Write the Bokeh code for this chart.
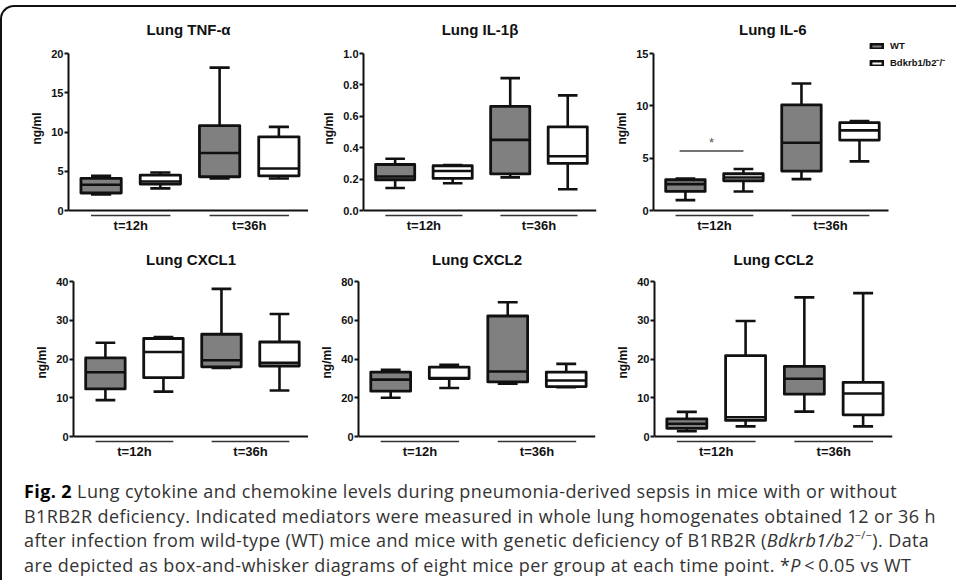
from bokeh.plotting import figure
from bokeh.layouts import column, row
from bokeh.models import (FixedTicker, Legend, LegendItem, Div, ColumnDataSource,
                          Range1d, NumeralTickFormatter, Spacer)
from bokeh.core.properties import value
from bokeh.embed import file_html
from bokeh.resources import INLINE

# ---------------- data ----------------
titles = ["Lung TNF-\u03b1", "Lung IL-1\u03b2", "Lung IL-6", "Lung CXCL1", "Lung CXCL2", "Lung CCL2"]
groups = ["t=12h", "t=36h"]
series = ["WT", "Bdkrb1/b2\u207b/\u207b"]
y_label = "ng/ml"
y_max = [20, 1.0, 15, 40, 80, 40]
y_ticks = [[0, 5, 10, 15, 20], [0, 0.2, 0.4, 0.6, 0.8, 1.0], [0, 5, 10, 15],
           [0, 10, 20, 30, 40], [0, 20, 40, 60, 80], [0, 10, 20, 30, 40]]
y_formats = ["0", "0.0", "0", "0", "0", "0"]

# order of boxes in each list: WT 12h, KO 12h, WT 36h, KO 36h
tnf_min = [2.06, 2.82, 4.08, 4.08]
tnf_q1 = [2.23, 3.37, 4.30, 4.42]
tnf_med = [3.28, 3.70, 7.33, 5.35]
tnf_q3 = [4.08, 4.50, 10.8, 9.39]
tnf_max = [4.42, 4.84, 18.2, 10.65]

il1b_min = [0.143, 0.174, 0.211, 0.135]
il1b_q1 = [0.196, 0.204, 0.233, 0.300]
il1b_med = [0.217, 0.252, 0.450, 0.346]
il1b_q3 = [0.293, 0.285, 0.663, 0.533]
il1b_max = [0.330, 0.289, 0.843, 0.733]

il6_min = [0.99, 1.82, 3.00, 4.69]
il6_q1 = [1.82, 2.84, 3.77, 6.73]
il6_med = [2.52, 3.16, 6.48, 7.66]
il6_q3 = [2.94, 3.51, 10.09, 8.39]
il6_max = [3.06, 3.96, 12.13, 8.55]

cxcl1_min = [9.4, 11.6, 17.7, 11.9]
cxcl1_q1 = [12.3, 15.2, 18.0, 18.2]
cxcl1_med = [16.6, 21.8, 19.7, 19.0]
cxcl1_q3 = [20.3, 25.3, 26.4, 24.4]
cxcl1_max = [24.2, 25.7, 38.1, 31.6]

cxcl2_min = [20.0, 25.1, 27.3, 25.5]
cxcl2_q1 = [23.4, 29.9, 28.2, 25.8]
cxcl2_med = [29.4, 30.2, 33.6, 28.9]
cxcl2_q3 = [33.3, 35.8, 62.2, 33.3]
cxcl2_max = [34.5, 37.0, 69.3, 37.5]

ccl2_min = [1.36, 2.63, 6.45, 2.63]
ccl2_q1 = [2.12, 4.16, 10.95, 5.60]
ccl2_med = [3.30, 5.00, 14.9, 11.1]
ccl2_q3 = [4.58, 20.9, 18.1, 14.0]
ccl2_max = [6.37, 29.8, 35.9, 37.0]

# significance marker (IL-6, t=12h)
sig_panel = 2
sig_y = 5.68
sig_x = [0.4, 1.5]
sig_text = "*"

caption_html = (
    "<b style='color:#000'>Fig. 2</b> Lung cytokine and chemokine levels during pneumonia-derived sepsis in mice with or without<br>"
    "B1RB2R deficiency. Indicated mediators were measured in whole lung homogenates obtained 12 or 36 h<br>"
    "after infection from wild-type (WT) mice and mice with genetic deficiency of B1RB2R (<i>Bdkrb1/b2</i>"
    "<span style='font-size:11px;position:relative;top:-0.7em;line-height:0'>\u2212/\u2212</span>). Data<br>"
    "are depicted as box-and-whisker diagrams of eight mice per group at each time point. *<i>P</i>&thinsp;&lt;&thinsp;0.05 vs WT"
)

panel_stats = [
    (tnf_min, tnf_q1, tnf_med, tnf_q3, tnf_max),
    (il1b_min, il1b_q1, il1b_med, il1b_q3, il1b_max),
    (il6_min, il6_q1, il6_med, il6_q3, il6_max),
    (cxcl1_min, cxcl1_q1, cxcl1_med, cxcl1_q3, cxcl1_max),
    (cxcl2_min, cxcl2_q1, cxcl2_med, cxcl2_q3, cxcl2_max),
    (ccl2_min, ccl2_q1, ccl2_med, ccl2_q3, ccl2_max),
]

# ---------------- style / layout ----------------
FONT = "Liberation Sans"
INK = "#111111"
WT_FILL = "#808080"
KO_FILL = "#ffffff"
positions = [0.5, 1.5, 2.5, 3.5]
group_centers = [1, 3]
X_START = -0.05
AXIS_END = 4.0
BOX_W = 0.68
CAP_W = 0.34
GROUP_HALF = 0.67
ZERO_PX = 157      # pixels from top tick to zero line
BELOW_PX = 7       # pixels of frame below zero line
GLINE_PX = 5       # group line offset below zero

# per panel: width, border left, border right, extra right px (legend room)
geom = [(306, 66, 0, 0), (291, 55, 3, 0), (351, 54, 5, 57),
        (306, 71, 0, 0), (291, 50, 4, 0), (351, 55, 58, 0)]
ROW_H = [228, 226]
ROW_TOP = [32, 44]          # min_border_top per row
ROW_EXT_TOP = [14, 0]       # extra frame px above top tick (legend room)
ROW_STANDOFF = [3, 27]
BOTTOM = 18


def make_panel(i):
    w, bl, br, ext_right = geom[i]
    r = i // 3
    ext_top = ROW_EXT_TOP[r]
    ymax = y_max[i]
    u = ymax / ZERO_PX
    frame_w = w - bl - br
    axis_w = frame_w - ext_right
    ux = (AXIS_END - X_START) / axis_w
    p = figure(width=w, height=ROW_H[r],
               x_range=Range1d(X_START, AXIS_END + ext_right * ux),
               y_range=Range1d(-BELOW_PX * u, ymax + ext_top * u), output_backend="svg",
               toolbar_location=None, min_border_left=bl, min_border_right=br,
               min_border_top=ROW_TOP[r], min_border_bottom=BOTTOM)
    p.outline_line_color = None
    p.grid.visible = False
    p.background_fill_color = None
    p.border_fill_color = None

    p.title.text = titles[i]
    p.title.text_font = FONT
    p.title.text_font_size = "15px"
    p.title.text_font_style = "bold"
    p.title.text_color = INK
    p.title.standoff = ROW_STANDOFF[r]
    if ext_right:
        p.title.align = "left"
        p.title.offset = axis_w / 2 - 32
    else:
        p.title.align = "center"

    ya = p.yaxis[0]
    ya.bounds = (0, ymax)
    ya.ticker = FixedTicker(ticks=y_ticks[i])
    ya.formatter = NumeralTickFormatter(format=y_formats[i])
    ya.axis_line_width = 2
    ya.axis_line_color = INK
    ya.major_tick_line_width = 2
    ya.major_tick_line_color = INK
    ya.major_tick_out = 4
    ya.major_tick_in = 0
    ya.minor_tick_line_color = None
    ya.major_label_standoff = 1
    ya.major_label_text_font = FONT
    ya.major_label_text_font_size = "11px"
    ya.major_label_text_font_style = "bold"
    ya.major_label_text_color = INK
    ya.axis_label = y_label
    ya.axis_label_text_font = FONT
    ya.axis_label_text_font_size = "12px"
    ya.axis_label_text_font_style = "bold"
    ya.axis_label_text_color = INK
    ya.axis_label_standoff = 4

    xa = p.xaxis[0]
    xa.ticker = FixedTicker(ticks=group_centers)
    xa.major_label_overrides = {group_centers[k]: groups[k] for k in range(2)}
    xa.axis_line_color = None
    xa.major_tick_line_color = None
    xa.minor_tick_line_color = None
    xa.major_tick_out = 0
    xa.major_tick_in = 0
    xa.major_label_standoff = 0
    xa.major_label_text_font = FONT
    xa.major_label_text_font_size = "13px"
    xa.major_label_text_font_style = "bold"
    xa.major_label_text_color = INK

    # x axis baseline at y = 0
    p.segment(x0=[X_START], y0=[0], x1=[AXIS_END], y1=[0], line_color=INK, line_width=2)

    mn, q1, md, q3, mx = panel_stats[i]
    renderers = []
    for s, idx in enumerate([[0, 2], [1, 3]]):
        xs = [positions[k] for k in idx]
        src = ColumnDataSource(dict(
            x=xs,
            lo=[mn[k] for k in idx], q1=[q1[k] for k in idx], med=[md[k] for k in idx],
            q3=[q3[k] for k in idx], hi=[mx[k] for k in idx],
            bx0=[x - BOX_W / 2 for x in xs], bx1=[x + BOX_W / 2 for x in xs],
            cx0=[x - CAP_W / 2 for x in xs], cx1=[x + CAP_W / 2 for x in xs],
        ))
        kw = dict(source=src, line_color=INK, line_width=2.6)
        p.segment(x0="x", y0="q3", x1="x", y1="hi", **kw)
        p.segment(x0="x", y0="lo", x1="x", y1="q1", **kw)
        p.segment(x0="cx0", y0="hi", x1="cx1", y1="hi", **kw)
        p.segment(x0="cx0", y0="lo", x1="cx1", y1="lo", **kw)
        rb = p.vbar(x="x", width=BOX_W, bottom="q1", top="q3", source=src,
                    fill_color=WT_FILL if s == 0 else KO_FILL, line_color=INK,
                    line_width=2.8, line_join="round")
        p.segment(x0="bx0", y0="med", x1="bx1", y1="med", **kw)
        renderers.append(rb)

    gy = -GLINE_PX * u
    p.segment(x0=[c - GROUP_HALF for c in group_centers], y0=[gy, gy],
              x1=[c + GROUP_HALF for c in group_centers], y1=[gy, gy],
              line_color="#333333", line_width=1.6)

    if i == sig_panel:
        p.segment(x0=[sig_x[0]], y0=[sig_y], x1=[sig_x[1]], y1=[sig_y],
                  line_color="#444444", line_width=1.6)
        p.text(x=[(sig_x[0] + sig_x[1]) / 2], y=[sig_y + 1.0 * u], text=[sig_text],
               text_font=value(FONT), text_font_size="13px", text_color="#555555",
               text_align="center", text_baseline="bottom")
        frame_h = ROW_H[r] - ROW_TOP[r] - BOTTOM
        leg_h = 27
        leg = Legend(items=[LegendItem(label=series[0], renderers=[renderers[0]]),
                            LegendItem(label=series[1], renderers=[renderers[1]])],
                     location=(216, frame_h - leg_h - 3), orientation="vertical",
                     glyph_width=15, glyph_height=6, label_height=11, spacing=5,
                     label_standoff=6, padding=0, margin=0,
                     border_line_color=None, background_fill_color=None,
                     label_text_font=FONT, label_text_font_size="9.5px",
                     label_text_font_style="bold", label_text_color=INK)
        p.add_layout(leg, "center")
    return p


panels = [make_panel(i) for i in range(6)]

caption = Div(
    text="<div style=\"font-family:'Open Sans';font-size:18px;letter-spacing:0.4px;line-height:24.5px;color:#333;"
         "white-space:nowrap;padding:13px 0 0 17px;\">" + caption_html + "</div>",
    width=946, height=109)

framed = column(row(*panels[:3]), row(*panels[3:]), caption,
                styles={"border-top": "2px solid #111", "border-left": "2px solid #111",
                        "border-top-left-radius": "14px"})
layout = column(Spacer(width=948, height=5), framed)

open("out.html", "w").write(file_html(layout, INLINE))
